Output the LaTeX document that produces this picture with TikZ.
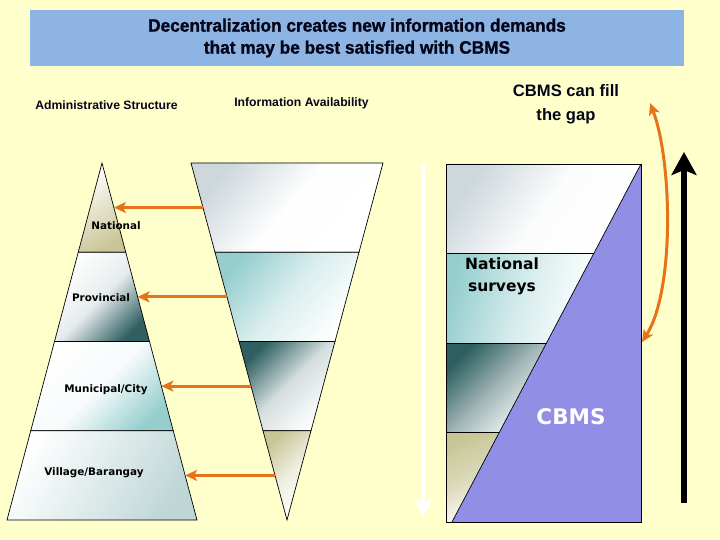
\documentclass[tikz,border=0pt]{standalone}
\usepackage{fontspec}
\setmainfont{DejaVu Sans}
\newfontfamily\headfont{Liberation Sans}[FakeStretch=0.96,FakeBold=1.2]
\newfontfamily\subfont{Liberation Sans}
\usetikzlibrary{arrows.meta,calc}
\definecolor{bgyellow}{RGB}{255,255,204}
\definecolor{titleblue}{RGB}{142,180,227}
\definecolor{cbmspurple}{RGB}{145,142,230}
\definecolor{darkteal}{RGB}{47,95,96}
\definecolor{khaki}{RGB}{200,198,150}
\definecolor{lteal}{RGB}{150,206,206}
\definecolor{graybl}{RGB}{205,215,220}
\definecolor{lgrayteal}{RGB}{190,214,214}
\definecolor{orangeA}{RGB}{230,115,25}
\definecolor{titleink}{RGB}{5,5,25}
\tikzset{
  edge/.style={draw=black, line width=0.7pt},
  orarrow/.style={draw=orangeA, line width=3pt},
  orhead/.style={-{Stealth[length=12pt,width=11pt,inset=3pt]}},
  lbl/.style={font=\fontsize{10.4}{12}\selectfont\bfseries, text=black, inner sep=0pt},
  head/.style={font=\subfont\bfseries\fontsize{12.2}{14}\selectfont, text=titleink, inner sep=0pt},
  bigsurv/.style={font=\fontsize{15.5}{22}\selectfont\bfseries, text=black, inner sep=0pt, align=center},
}
\begin{document}
\begin{tikzpicture}[x=1pt,y=-1pt]
\useasboundingbox (0,0) rectangle (720,540);
\fill[bgyellow] (0,0) rectangle (720,540);
% title
\fill[titleblue] (30,10) rectangle (684,66);
\node[font=\headfont\bfseries\fontsize{18}{22}\selectfont, text=titleink, align=center, inner sep=0pt] (title) at (357,38)
  {Decentralization creates new information demands\\that may be best satisfied with CBMS};
\node[head] (adm) at (106.5,105) {Administrative Structure};
\node[head] (info) at (301.5,103) {Information Availability};
\node[font=\subfont\bfseries\fontsize{16.6}{24}\selectfont, text=titleink, align=center, inner sep=0pt] (fill) at (566,104) {CBMS can fill\\the gap};

% pyramid
\shade[edge, top color=white, bottom color=khaki, shading angle=30] (102,163) -- (125.75,252.25) -- (78.25,252.25) -- cycle;
\shade[edge, top color=white, bottom color=darkteal, middle color=white!88!darkteal, shading angle=45] (78.25,252.25) -- (125.75,252.25) -- (149.5,341.5) -- (54.5,341.5) -- cycle;
\shade[edge, top color=white, bottom color=lteal, middle color=white!92!lteal, shading angle=45] (54.5,341.5) -- (149.5,341.5) -- (173.25,430.75) -- (30.75,430.75) -- cycle;
\shade[edge, top color=white, bottom color=lgrayteal, shading angle=60] (30.75,430.75) -- (173.25,430.75) -- (197,520) -- (7,520) -- cycle;
\node[lbl] (nat) at (116,226) {National};
\node[lbl] (prov) at (101,298) {Provincial};
\node[lbl] (mun) at (106,390) {Municipal/City};
\node[lbl] (vil) at (94,473) {Village/Barangay};

% inverted triangle
\shade[edge, top color=graybl, bottom color=white, middle color=white!97!graybl, shading angle=50] (191,163) -- (383,163) -- (359,252.25) -- (215,252.25) -- cycle;
\shade[edge, top color=lteal, bottom color=white, middle color=white!65!lteal, shading angle=50] (215,252.25) -- (359,252.25) -- (335,341.5) -- (239,341.5) -- cycle;
\shade[edge, top color=darkteal, bottom color=white, middle color=white!80!darkteal, shading angle=45] (239,341.5) -- (335,341.5) -- (311,430.75) -- (263,430.75) -- cycle;
\shade[edge, top color=khaki, bottom color=white, middle color=white!70!khaki, shading angle=45] (263,430.75) -- (311,430.75) -- (287,520) -- cycle;

% orange arrows
\coordinate (i1) at (203,207.6);   \coordinate (p1) at (113.9,207.6);
\coordinate (i2) at (227,296.9);   \coordinate (p2) at (137.6,296.9);
\coordinate (i3) at (251,386.1);   \coordinate (p3) at (161.4,386.1);
\coordinate (i4) at (275,475.4);   \coordinate (p4) at (185.1,475.4);
\draw[orarrow, orhead] (i1) -- (p1);
\draw[orarrow, orhead] (i2) -- (p2);
\draw[orarrow, orhead] (i3) -- (p3);
\draw[orarrow, orhead] (i4) -- (p4);

% right rectangle: visible parts of the bands
\shade[top color=graybl, bottom color=white, middle color=white!92!graybl, shading angle=55] (446,164) -- (641,164) -- (593.75,253.5) -- (446,253.5) -- cycle;
\shade[top color=lteal, bottom color=white, middle color=white!60!lteal, shading angle=75] (446,253.5) -- (593.75,253.5) -- (546.5,343) -- (446,343) -- cycle;
\shade[top color=darkteal, bottom color=white, middle color=white!55!darkteal, shading angle=45] (446,343) -- (546.5,343) -- (499.3,432.5) -- (446,432.5) -- cycle;
\shade[top color=khaki, bottom color=white, middle color=white!35!khaki, shading angle=25] (446,432.5) -- (499.3,432.5) -- (452,522) -- (446,522) -- cycle;
\fill[cbmspurple] (452,522) -- (641,164) -- (641,522) -- cycle;
\draw[edge] (446,253.5) -- (593.75,253.5) (446,343) -- (546.5,343) (446,432.5) -- (499.3,432.5);
\draw[edge] (452,522) -- (641,164);
\draw[edge] (446,164) rectangle (641,522);
\node[bigsurv] (surv) at (502,276) {National\\surveys};
\node[font=\fontsize{21.5}{24}\selectfont\bfseries, text=white, inner sep=0pt] (cbms) at (571,417) {CBMS};

% white arrow
\coordinate (wtop) at (423,163); \coordinate (wbot) at (423,518);
\draw[white, line width=3pt, -{Stealth[length=20pt,width=19pt,inset=6pt]}] (wtop) -- (wbot);
% black arrow
\coordinate (btop) at (684,152); \coordinate (bbot) at (684,503);
\draw[black, line width=6pt, -{Stealth[length=23pt,width=25pt,inset=5pt]}] (bbot) -- (btop);
% curved double arrow
\coordinate (gtop) at (650,103); \coordinate (gbot) at (642,342);
\draw[orarrow, {Stealth[length=12pt,width=11pt,inset=3pt]}-{Stealth[length=12pt,width=11pt,inset=3pt]}] (gtop) .. controls (672,160) and (675,290) .. (gbot);
\end{tikzpicture}
\end{document}
